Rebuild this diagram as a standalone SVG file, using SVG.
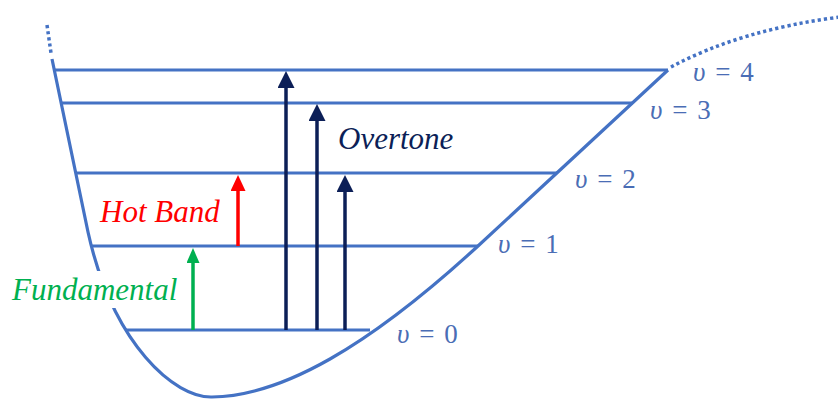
<svg xmlns="http://www.w3.org/2000/svg" width="838" height="399" viewBox="0 0 838 399">
<style>
.curve{fill:none;stroke:#4472C4;stroke-width:3.2;stroke-linejoin:round}
.dot{fill:none;stroke:#4472C4;stroke-width:3.5;stroke-dasharray:3.2 3}
.lvl{stroke:#4472C4;stroke-width:3}
.lbl{font-family:"Times New Roman", Times, "Liberation Serif", "DejaVu Serif", serif;font-size:27px;fill:#4a6db5;word-spacing:3px}
.name{font-family:"Times New Roman", Times, "Liberation Serif", "DejaVu Serif", serif;font-size:31px;font-style:italic}
.navy{stroke:#0c1f57;stroke-width:3.5}
.red{stroke:#ff0000;stroke-width:3.5}
.green{stroke:#00b050;stroke-width:3.5}
</style>
<defs>
<marker id="hNavy" markerUnits="userSpaceOnUse" markerWidth="18" markerHeight="18" refX="7" refY="8.5" orient="auto"><path d="M0,0 L17,8.5 L0,17 z" fill="#0c1f57"/></marker>
<marker id="hRed" markerUnits="userSpaceOnUse" markerWidth="18" markerHeight="18" refX="6" refY="7.5" orient="auto"><path d="M0,0 L16,7.5 L0,15 z" fill="#ff0000"/></marker>
<marker id="hGreen" markerUnits="userSpaceOnUse" markerWidth="18" markerHeight="18" refX="5" refY="6.5" orient="auto"><path d="M0,0 L15,6.5 L0,13 z" fill="#00b050"/></marker>
</defs>
<rect width="838" height="399" fill="#ffffff"/>
<g id="potential">
<path class="dot" d="M47,25 L51,53"/>
<path class="curve" d="M52,59 L88,232 C113,345 175,398 212,397 C282,396 368,347 478,246 L668,70"/>
<path class="dot" d="M671,67 Q740,30 840,17"/>
</g>
<g id="levels">
<line class="lvl" x1="55" y1="70" x2="668" y2="70"/>
<line class="lvl" x1="62" y1="103" x2="633" y2="103"/>
<line class="lvl" x1="76" y1="173" x2="557" y2="173"/>
<line class="lvl" x1="92" y1="246" x2="478" y2="246"/>
<line class="lvl" x1="125" y1="330" x2="370" y2="330"/>
</g>
<g id="level-labels">
<text class="lbl" x="693" y="81"><tspan font-style="italic">υ</tspan> = 4</text>
<text class="lbl" x="650" y="119"><tspan font-style="italic">υ</tspan> = 3</text>
<text class="lbl" x="575" y="188"><tspan font-style="italic">υ</tspan> = 2</text>
<text class="lbl" x="498" y="253"><tspan font-style="italic">υ</tspan> = 1</text>
<text class="lbl" x="397" y="343"><tspan font-style="italic">υ</tspan> = 0</text>
</g>
<g id="connectors">
<line class="navy" x1="286" y1="330" x2="286" y2="81" marker-end="url(#hNavy)"/>
<line class="navy" x1="317" y1="330" x2="317" y2="114" marker-end="url(#hNavy)"/>
<line class="navy" x1="345" y1="330" x2="345" y2="185" marker-end="url(#hNavy)"/>
<line class="red" x1="238" y1="246" x2="238" y2="185" marker-end="url(#hRed)"/>
<line class="green" x1="193" y1="330" x2="193" y2="258" marker-end="url(#hGreen)"/>
</g>
<g id="overtone">
<text class="name" x="338" y="149" fill="#0c1f57">Overtone</text>
</g>
<g id="hot-band">
<text class="name" x="100" y="222" fill="#ff0000">Hot Band</text>
</g>
<g id="fundamental">
<rect x="8" y="271" width="176" height="37" fill="#ffffff"/>
<text class="name" x="12" y="300" fill="#00b050">Fundamental</text>
</g>
</svg>
